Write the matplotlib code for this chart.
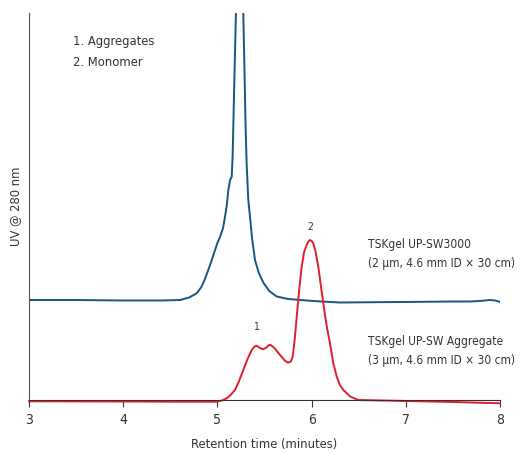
import matplotlib.pyplot as plt

# Retention time (min) and UV signal (arbitrary units)
t_sw3000 = [3.0, 3.5, 4.0, 4.4, 4.603, 4.70, 4.780, 4.83, 4.868, 4.93, 4.975, 5.00,
            5.028, 5.06, 5.081, 5.10, 5.116, 5.135, 5.152, 5.162, 5.18, 5.197, 5.235,
            5.275, 5.30, 5.311, 5.328, 5.346, 5.37, 5.399, 5.44, 5.487, 5.55, 5.630,
            5.75, 5.877, 6.1, 6.301, 6.94, 7.5, 7.68, 7.78, 7.84, 7.89, 7.95, 8.0]
uv_sw3000 = [100, 100, 99.5, 99.5, 100, 102.5, 106.7, 113, 121, 137, 150, 157,
             163, 172, 183.3, 195, 210, 220, 223.3, 245, 320, 387, 470,
             387, 270, 235, 200, 183.3, 160, 140, 127, 117.5, 109, 103.5,
             101, 100, 98.5, 97.5, 98, 98.5, 98.5, 99, 99.5, 100, 99.5, 98]

t_aggr = [3.0, 4.0, 4.603, 4.993, 5.05, 5.099, 5.14, 5.187, 5.23, 5.275, 5.32, 5.364,
          5.39, 5.410, 5.43, 5.45, 5.487, 5.52, 5.54, 5.558, 5.58, 5.61, 5.665, 5.72,
          5.753, 5.78, 5.799, 5.82, 5.842, 5.87, 5.895, 5.92, 5.948, 5.965, 5.983,
          6.0, 6.018, 6.04, 6.071, 6.124, 6.16, 6.195, 6.23, 6.267, 6.30, 6.337,
          6.41, 6.496, 7.01, 7.5, 8.0]
uv_aggr = [-1.3, -1.5, -1.7, -1.7, -0.5, 1.7, 5, 10, 19, 30, 41, 50,
           53, 54.3, 53.5, 52, 50.7, 52.5, 54.5, 55.3, 54, 51.5, 45, 39,
           37.3, 38.5, 43.3, 60, 83.3, 112, 133.3, 148, 155, 158.5, 160,
           159, 156.7, 149, 133.3, 96.7, 74, 56.7, 37, 23.3, 15, 10,
           3.5, 0, -1, -2, -3.3]

peak_labels = ["1", "2"]
peak_pos = [(5.41, 73), (5.983, 172.5)]
legend_lines = ["1. Aggregates", "2. Monomer"]
trace_names = ["TSKgel UP-SW3000\n(2 µm, 4.6 mm ID × 30 cm)",
               "TSKgel UP-SW Aggregate\n(3 µm, 4.6 mm ID × 30 cm)"]
x_ticks = [3, 4, 5, 6, 7, 8]

plt.rcParams['font.family'] = ['DejaVu Sans']
plt.rcParams['font.stretch'] = 'condensed'
txt = '#333333'
fs = 9.3

fig = plt.figure(figsize=(5.22, 4.53), dpi=100)
ax = fig.add_axes([29 / 522, 53 / 453, 471 / 522, 387 / 453])

ax.plot(t_sw3000, uv_sw3000, color='#16567f', lw=1.4, clip_on=True)
ax.plot(t_aggr, uv_aggr, color='#e31b2e', lw=1.4, clip_on=False)

ax.set_xlim(3, 8)
ax.set_ylim(0, 387)

for lab, (x, y) in zip(peak_labels, peak_pos):
    ax.text(x, y, lab, ha='center', va='center', fontsize=7.5, color=txt)

for i, s in enumerate(legend_lines):
    fig.text(73 / 522, 1 - (41 + 22 * i) / 453, s, fontsize=fs, color=txt,
             va='center')

# column names, next to each trace
fig.text(368 / 522, 1 - 254 / 453, trace_names[0], fontsize=8.6, color=txt,
         va='center', linespacing=1.55)
fig.text(368 / 522, 1 - 351 / 453, trace_names[1], fontsize=8.6, color=txt,
         va='center', linespacing=1.55)

ax.spines['top'].set_visible(False)
ax.spines['right'].set_visible(False)
ax.spines['left'].set_color('#555555')
ax.spines['bottom'].set_color('#333333')
ax.set_yticks([])
ax.set_xticks(x_ticks)
ax.tick_params(axis='x', direction='out', length=5, color='#333333',
               labelsize=10, labelcolor=txt, pad=4)

ax.set_xlabel("Retention time (minutes)", fontsize=fs, color=txt, labelpad=8)
ax.set_ylabel("UV @ 280 nm", fontsize=fs, color=txt, labelpad=5)

fig.savefig("out.png", dpi=100)
